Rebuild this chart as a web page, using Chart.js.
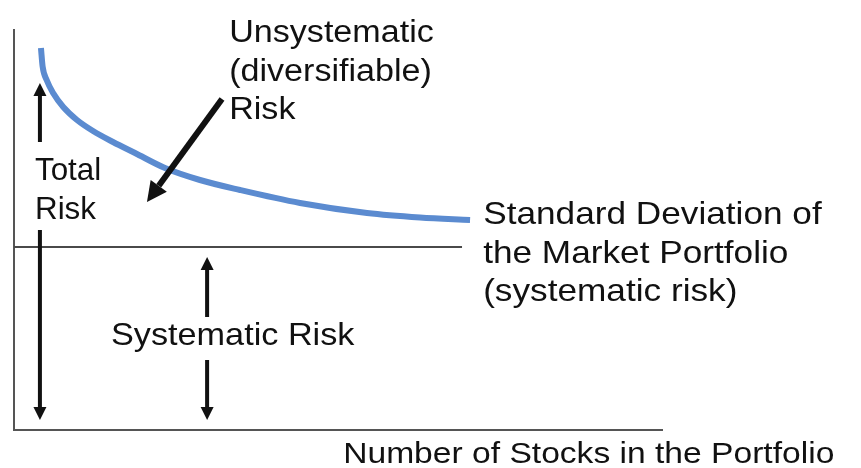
<!DOCTYPE html>
<html>
<head>
<meta charset="utf-8">
<script src="https://cdn.jsdelivr.net/npm/chart.js@4.4.1/dist/chart.umd.min.js"></script>
<style>
html, body { margin: 0; padding: 0; background: #fff; }
canvas { display: block; }
</style>
</head>
<body>
<canvas id="grafico" width="861" height="468"></canvas>
<script>
// number of stocks (x) and total risk (y)
const stocks = [2.08, 2.21, 2.52, 3.03, 3.80, 4.86, 6.10, 7.64, 9.34, 11.65, 14.35, 17.44, 22.07, 27.24, 31.33, 35.19];
const totalRisk = [38.2, 36.33, 35.0, 33.67, 32.3, 31.0, 29.9, 28.8, 27.7, 26.2, 25.0, 24.0, 22.7, 21.7, 21.25, 21.0];

// market portfolio standard deviation (systematic risk level)
const marketStocks = [0, 34.57];
const marketRisk = [18.3, 18.3];

// arrows: start and tip in chart units
const setas = [
  { de: [2.0, 28.8], para: [2.0, 34.7], largura: 4, cabeca: 13 },
  { de: [2.0, 20.0], para: [2.0, 1.0], largura: 4, cabeca: 13 },
  { de: [14.9, 11.3], para: [14.9, 17.3], largura: 4, cabeca: 13 },
  { de: [14.9, 7.0], para: [14.9, 1.0], largura: 4, cabeca: 13 },
  { de: [16.05, 33.1], para: [10.26, 22.8], largura: 6, cabeca: 20 }
];

// text labels: left x and baseline y in chart units
const textos = [
  { linhas: ['Unsystematic', '(diversifiable)', 'Risk'], x: 16.6, y: 38.8, size: 31, sx: 1.1 },
  { linhas: ['Total', 'Risk'], x: 1.62, y: 25.0, size: 32, sx: 0.98 },
  { linhas: ['Systematic Risk'], x: 7.48, y: 8.5, size: 32, sx: 1.07 },
  { linhas: ['Standard Deviation of', 'the Market Portfolio', '(systematic risk)'], x: 36.2, y: 20.6, size: 32, sx: 1.1 },
  { linhas: ['Number of Stocks in the Portfolio'], x: 25.4, y: -3.3, size: 30, sx: 1.12 }
];

const anotacoes = {
  id: 'anotacoes',
  afterDraw(chart) {
    const ctx = chart.ctx;
    const xs = chart.scales.x;
    const ys = chart.scales.y;

    ctx.save();
    ctx.fillStyle = '#111';
    ctx.strokeStyle = '#111';
    ctx.lineCap = 'butt';
    setas.forEach(s => {
      const x1 = xs.getPixelForValue(s.de[0]);
      const y1 = ys.getPixelForValue(s.de[1]);
      const x2 = xs.getPixelForValue(s.para[0]);
      const y2 = ys.getPixelForValue(s.para[1]);
      const ang = Math.atan2(y2 - y1, x2 - x1);
      const bx = x2 - Math.cos(ang) * s.cabeca;
      const by = y2 - Math.sin(ang) * s.cabeca;
      ctx.lineWidth = s.largura;
      ctx.beginPath();
      ctx.moveTo(x1, y1);
      ctx.lineTo(bx, by);
      ctx.stroke();
      const w = s.cabeca * 0.5;
      ctx.beginPath();
      ctx.moveTo(x2, y2);
      ctx.lineTo(bx + Math.sin(ang) * w, by - Math.cos(ang) * w);
      ctx.lineTo(bx - Math.sin(ang) * w, by + Math.cos(ang) * w);
      ctx.closePath();
      ctx.fill();
    });

    ctx.textBaseline = 'alphabetic';
    ctx.textAlign = 'left';
    textos.forEach(t => {
      ctx.font = t.size + 'px "Liberation Sans", Arial, sans-serif';
      const x = xs.getPixelForValue(t.x);
      const y0 = ys.getPixelForValue(t.y);
      t.linhas.forEach((linha, i) => {
        ctx.save();
        ctx.translate(x, y0 + i * 38.5);
        ctx.scale(t.sx, 1);
        ctx.fillText(linha, 0, 0);
        ctx.restore();
      });
    });
    ctx.restore();
  }
};

const ctx = document.getElementById('grafico');

new Chart(ctx, {
  type: 'line',
  data: {
    datasets: [
      {
        label: 'Total Risk',
        data: stocks.map((s, i) => ({ x: s, y: totalRisk[i] })),
        borderColor: '#5b8bd0',
        borderWidth: 6,
        pointRadius: 0,
        cubicInterpolationMode: 'monotone',
        fill: false
      },
      {
        label: 'Market Portfolio',
        data: marketStocks.map((s, i) => ({ x: s, y: marketRisk[i] })),
        borderColor: '#4a4a4a',
        borderWidth: 2,
        pointRadius: 0,
        fill: false
      }
    ]
  },
  options: {
    responsive: false,
    animation: false,
    layout: {
      padding: { left: 14, top: 30, right: 199, bottom: 38 }
    },
    plugins: {
      legend: { display: false },
      tooltip: { enabled: false }
    },
    scales: {
      x: {
        type: 'linear',
        min: 0,
        max: 50,
        ticks: { display: false },
        grid: { display: false, drawTicks: false, tickLength: 0 },
        border: { display: true, color: '#555', width: 2 }
      },
      y: {
        type: 'linear',
        min: 0,
        max: 40,
        ticks: { display: false },
        grid: { display: false, drawTicks: false, tickLength: 0 },
        border: { display: true, color: '#555', width: 2 }
      }
    }
  },
  plugins: [anotacoes]
});
</script>
</body>
</html>
